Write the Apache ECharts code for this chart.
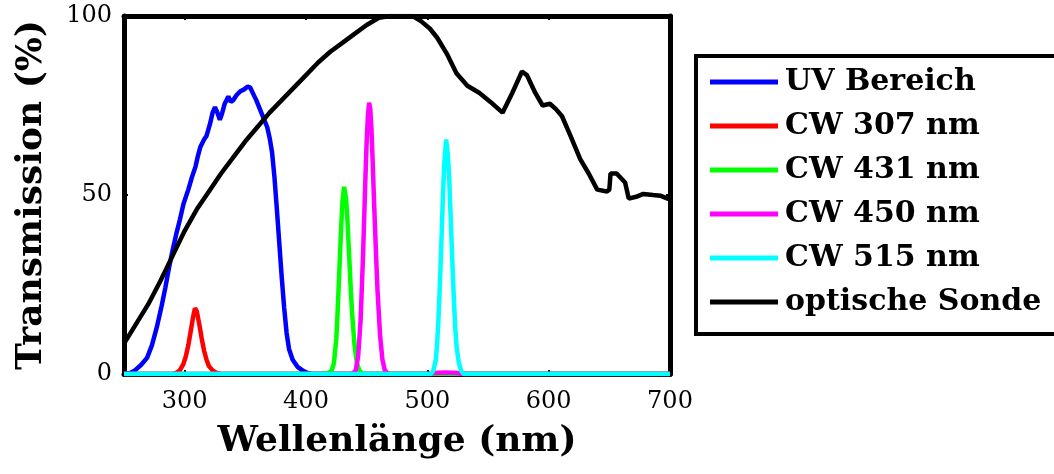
<!DOCTYPE html>
<html lang="de">
<head>
    <meta charset="UTF-8">
    <title>Transmission</title>
    <script src="https://cdn.jsdelivr.net/npm/echarts@6/dist/echarts.min.js"></script>
    <style>
        body { margin: 0; background: #fff; }
        #main { width: 1054px; height: 474px; }
    </style>
</head>
<body>
<div id="main"></div>
<script>
    // Wellenlänge (nm) / Transmission (%)
    var xTicks = [300, 400, 500, 600, 700];
    var yTicks = [0, 50, 100];
    var names = ['UV Bereich', 'CW 307 nm', 'CW 431 nm', 'CW 450 nm', 'CW 515 nm', 'optische Sonde'];
    var colors = ['#0000ff', '#ff0000', '#00ff00', '#ff00ff', '#00ffff', '#000000'];

    var uvBereich = [[250,0],[255,0.3],[259,1],[264,2.5],[269,4.5],[273,8],[277,13],[281,19],[284,24],[287,29.5],
        [290,34.5],[293,39],[296,43],[299,47.5],[303,51.5],[306,55],[309,58],[311,61],[313,63.5],[316,65.5],
        [318,66.5],[321,70],[323,73],[325,74.5],[327,73],[329,71],[331,73],[333,75.5],[336,77.5],[338,76],
        [340,76.5],[343,78],[346,79],[349,79.5],[352,80.3],[354,80],[356,78.6],[359,76.5],[362,74],[365,71.5],
        [368,69],[370,66],[372,62],[374,55],[376,46],[378,36.5],[380,27],[382,18.5],[384,11.5],[386,7],
        [389,4],[393,2],[398,0.8],[402,0.2],[405,0],[700,0]];
    var cw307 = [[250,0],[290,0],[293,0.3],[296,1],[299,2.8],[301,5],[303,8],[305,12],[307,16],[308.5,18.4],
        [310,17.5],[312,14],[314,10],[316,6.5],[318,4],[320,2.2],[323,1],[326,0.4],[330,0],[700,0]];
    var cw431 = [[250,0],[412,0],[418,0.3],[421,0.8],[423,3],[425,10],[426,17],[427,25],[428,33],[429,41],
        [430,48],[431.4,52.3],[433,49],[434,44],[435,37],[436,30],[437,23],[438,17],[440,8],[442,3],
        [444,1],[446,0.2],[448,0],[700,0]];
    var cw450 = [[250,0],[438,0],[441,1],[443,5],[445,15],[446,24],[447,33],[448,44],[449,55],[450,65],
        [451,72],[452,75.8],[453,74],[454,68],[455,59],[456,49],[457,40],[458,31],[459,23],[461,11],
        [463,4],[465,1],[468,0],[502,0],[505,0.3],[515,0.4],[525,0.3],[528,0],[700,0]];
    var cw515 = [[250,0],[503,0],[505,1],[507,4],[508,8],[509,14],[510,22],[511,31],[512,41],[513,51],
        [514,59],[515.5,65.5],[517,61],[518,55],[519,46],[520,37],[521,28],[522,20],[523,13],[524,8],
        [526,3],[528,0.8],[530,0],[700,0]];
    var sonde = [[250,8.5],[260,14],[270,19.5],[280,26],[290,33],[300,40],[310,46],[320,51],[330,56],[340,60.5],
        [350,65],[360,69],[370,73],[380,76.5],[390,80],[400,83.5],[410,87],[420,90],[430,92.5],[440,95],
        [450,97.5],[460,99.5],[470,100],[480,100],[488,100],[495,98.5],[502,96.5],[508,94],[516,89.5],[524,84],
        [533,80.5],[543,78.5],[552,76],[562,73],[570,78.5],[578,84.5],[582,83.5],[589,78.5],[595,75],[601,75.5],
        [606,74],[611,72],[618,66.5],[626,60],[633,56],[640,51.5],[648,51],[650,51.5],[651,56],[656,56],
        [663,53.5],[666,49],[672,49.5],[678,50.3],[686,50],[692,49.8],[698,49],[700,48.8]];

    var allData = [uvBereich, cw307, cw431, cw450, cw515, sonde];
    var zOrder = [2, 3, 4, 5, 7, 6];

    var series = [];
    for (var i = 0; i < names.length; i++) {
        series.push({
            name: names[i],
            type: 'line',
            data: allData[i],
            showSymbol: false,
            smooth: false,
            z: zOrder[i],
            lineStyle: { color: colors[i], width: 4.5 },
            itemStyle: { color: colors[i] }
        });
    }

    var serif = 'DejaVu Serif';

    var option = {
        animation: false,
        backgroundColor: '#fff',
        grid: { left: 124, right: 384, top: 16, bottom: 100, containLabel: false, outerBoundsMode: 'none' },
        legend: {
            orient: 'vertical',
            left: 696,
            top: 56,
            icon: 'rect',
            itemWidth: 68,
            itemHeight: 5,
            itemGap: 0,
            padding: [4, 40, 10, 14],
            borderColor: '#000',
            borderWidth: 4,
            data: names,
            textStyle: {
                fontFamily: serif,
                fontWeight: 'bold',
                fontSize: 30,
                lineHeight: 44,
                color: '#000',
                padding: [0, 0, 0, 2]
            }
        },
        xAxis: [{
            type: 'value',
            min: 250,
            max: 700,
            name: 'Wellenlänge (nm)',
            nameLocation: 'middle',
            nameGap: 50,
            nameTextStyle: { fontFamily: serif, fontWeight: 'bold', fontSize: 36, color: '#000' },
            splitLine: { show: false },
            axisLine: { onZero: false, lineStyle: { color: '#000', width: 5 } },
            axisTick: { inside: true, length: 4, lineStyle: { color: '#000', width: 2 }, customValues: xTicks.slice(0, 4) },
            axisLabel: { customValues: xTicks, margin: 16, fontFamily: serif, fontSize: 24, color: '#000' }
        }, {
            type: 'value',
            position: 'top',
            min: 250,
            max: 700,
            splitLine: { show: false },
            axisLine: { onZero: false, lineStyle: { color: '#000', width: 5 } },
            axisTick: { inside: true, length: 4, lineStyle: { color: '#000', width: 2 }, customValues: xTicks.slice(0, 4) },
            axisLabel: { show: false }
        }],
        yAxis: [{
            type: 'value',
            min: 0,
            max: 100,
            name: 'Transmission (%)',
            nameLocation: 'middle',
            nameGap: 74,
            nameTextStyle: { fontFamily: serif, fontWeight: 'bold', fontSize: 36, color: '#000' },
            splitLine: { show: false },
            axisLine: { show: true, onZero: false, lineStyle: { color: '#000', width: 5 } },
            axisTick: { show: true, inside: true, length: 4, lineStyle: { color: '#000', width: 2 }, customValues: [50] },
            axisLabel: { customValues: yTicks, margin: 12, fontFamily: serif, fontSize: 24, color: '#000' }
        }, {
            type: 'value',
            position: 'right',
            min: 0,
            max: 100,
            splitLine: { show: false },
            axisLine: { show: true, onZero: false, lineStyle: { color: '#000', width: 5 } },
            axisTick: { show: true, inside: true, length: 4, lineStyle: { color: '#000', width: 2 }, customValues: [50] },
            axisLabel: { show: false }
        }],
        series: series
    };

    var myChart = echarts.init(document.getElementById('main'));
    myChart.setOption(option);
</script>
</body>
</html>
